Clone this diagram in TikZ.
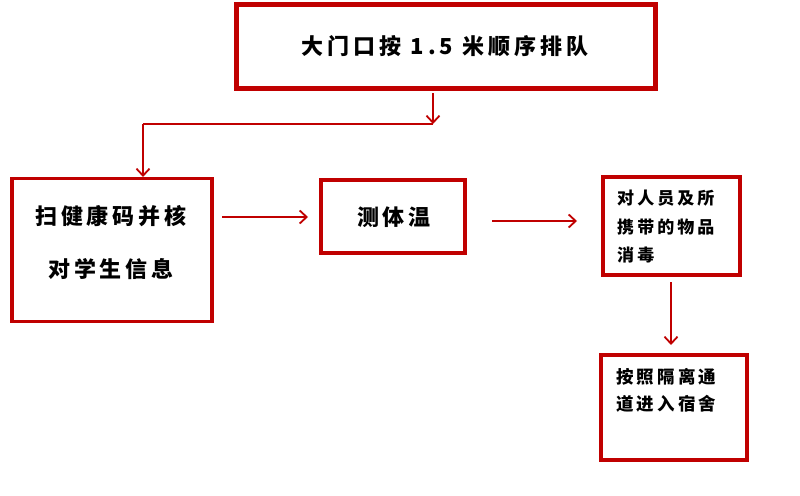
\documentclass[tikz,border=0pt]{standalone}
\usepackage{fontspec}
\newfontfamily\cjk[LetterSpace=18]{Noto Sans CJK SC}
\usetikzlibrary{arrows.meta}
\definecolor{boxred}{HTML}{C00000}
\tikzset{
  x=1pt, y=-1pt,
  frame/.style={draw=boxred, line width=3.5pt, fill=white, inner sep=0pt},
  bigframe/.style={frame, line width=5pt},
  arr/.style={draw=boxred, line width=1.8pt, -{Straight Barb[length=7pt,width=13pt,line width=1.8pt]}},
  link/.style={draw=boxred, line width=1.8pt},
  txt/.style={inner sep=0pt, font=\cjk\bfseries},
}
\begin{document}
\begin{tikzpicture}
\useasboundingbox[fill=white] (0,0) rectangle (800,495);
% boxes
\node[bigframe, minimum width=419pt, minimum height=83pt] (top) at (445.5,46.5) {};
\node[frame, minimum width=200pt, minimum height=143pt] (scan) at (112,250) {};
\node[frame, minimum width=144pt, minimum height=73pt] (temp) at (393,216.5) {};
\node[frame, minimum width=137pt, minimum height=98pt] (dis) at (671.5,226) {};
\node[frame, minimum width=146pt, minimum height=105pt] (dorm) at (674,407.5) {};
% texts
\node[txt, font=\cjk\bfseries\fontsize{22}{26}\selectfont] (ttop) at (445,46) {大门口按 1.5 米顺序排队};
\node[txt, font=\cjk\bfseries\fontsize{22}{53}\selectfont, align=center] (tscan) at (111,243) {扫健康码并核\\对学生信息};
\node[txt, font=\cjk\bfseries\fontsize{22}{26}\selectfont] (ttemp) at (394,217) {测体温};
\node[txt, font=\cjk\bfseries\fontsize{17}{28.5}\selectfont, align=left, anchor=north west] (tdis) at (617,190) {对人员及所\\携带的物品\\消毒};
\node[txt, font=\cjk\bfseries\fontsize{17.5}{27}\selectfont, align=left, anchor=north west] (tdorm) at (616,368) {按照隔离通\\道进入宿舍};
% connectors
\coordinate (s1) at (433,93);
\coordinate (j1) at (433,124);
\coordinate (j2) at (143,124);
\coordinate (e1) at (143,177);
\draw[arr] (s1) -- (j1);
\draw[link] (j1) -- (j2);
\draw[arr] (j2) -- (e1);
\coordinate (a1) at (222,217);
\coordinate (a2) at (308,217);
\draw[arr] (a1) -- (a2);
\coordinate (b1) at (492,221);
\coordinate (b2) at (577,221);
\draw[arr] (b1) -- (b2);
\coordinate (c1) at (671,282);
\coordinate (c2) at (671,345);
\draw[arr] (c1) -- (c2);
\end{tikzpicture}
\end{document}
